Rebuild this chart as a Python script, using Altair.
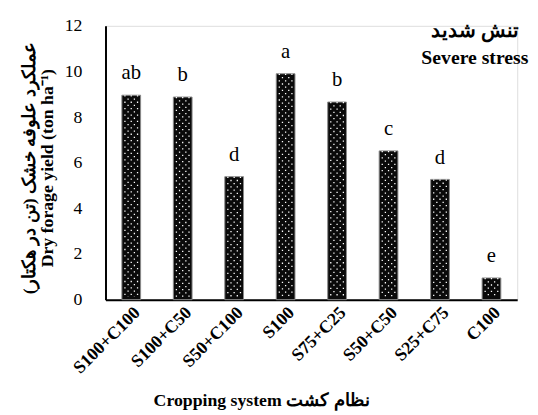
import altair as alt
import pandas as pd

systems = ["S100+C100", "S100+C50", "S50+C100", "S100", "S75+C25", "S50+C50", "S25+C75", "C100"]
yields = [8.96, 8.88, 5.39, 9.90, 8.66, 6.52, 5.27, 0.95]
letters = ["ab", "b", "d", "a", "b", "c", "d", "e"]
y_ticks = [0, 2, 4, 6, 8, 10, 12]

df = pd.DataFrame({"system": systems, "yield": yields, "letter": letters})

FONT = "Liberation Serif"

x_enc = alt.X(
    "system:N",
    sort=systems,
    scale=alt.Scale(paddingInner=0.636, paddingOuter=0.318),
    axis=alt.Axis(
        title="Cropping system نظام کشت",
        titleFont=FONT, titleFontSize=18, titleFontWeight="bold", titleColor="black",
        titleX=158, titleY=107, titleAlign="center", titleBaseline="alphabetic",
        labelAngle=-45, labelFont=FONT, labelFontSize=18, labelFontWeight="bold",
        labelColor="black", ticks=False, labelPadding=4,
        domainColor="black", domainWidth=2,
    ),
)
y_enc = alt.Y(
    "yield:Q",
    scale=alt.Scale(domain=[0, 12]),
    axis=alt.Axis(
        values=y_ticks, grid=False, ticks=False, labelPadding=24,
        labelFont=FONT, labelFontSize=18, labelColor="black",
        title=["عملکرد علوفه خشک (تن در هکتار)", "Dry forage yield (ton ha⁻¹)"],
        titleFont=FONT, titleFontSize=18, titleFontWeight="bold", titleColor="black",
        titleX=-68, titleY=144, titleAlign="center", titleLineHeight=18,
        domainColor="black", domainWidth=2,
    ),
)

base = alt.Chart(df)

bars = base.mark_bar(fill="#0a0a0a", stroke="#8a8a8a", strokeWidth=1).encode(x=x_enc, y=y_enc)

dot_layers = []
offsets = [-6.4, -3.2, 0, 3.2, 6.4]
for i, off in enumerate(offsets):
    dot_layers.append(
        base.mark_rule(
            color="white", strokeWidth=1.3, strokeDash=[1.3, 5.2],
            strokeDashOffset=(0 if i % 2 == 0 else 3.25), xOffset=off,
        ).encode(
            x=alt.X("system:N", sort=systems),
            y=alt.Y("yield:Q"),
            y2=alt.datum(0.12),
        )
    )

labels = base.mark_text(
    font=FONT, fontSize=21, color="black", baseline="bottom", dy=-12
).encode(x=alt.X("system:N", sort=systems), y=alt.Y("yield:Q"), text="letter:N")

chart = alt.layer(bars, *dot_layers, labels).properties(
    width=418,
    height=278,
    autosize=alt.AutoSizeParams(type="none"),
    padding={"left": 99, "top": 15, "right": 13, "bottom": 114},
    title=alt.TitleParams(
        text="تنش شدید",
        subtitle="Severe stress",
        anchor="end", align="center", orient="top", frame="group",
        font=FONT, fontSize=20, fontWeight="bold", color="black",
        subtitleFont=FONT, subtitleFontSize=20, subtitleFontWeight="bold",
        subtitleColor="black", subtitlePadding=8,
        offset=-52, dx=-43,
    ),
).configure_view(stroke=None).configure(background="white")

chart.save("out.html", embed_options={"renderer": "svg", "actions": False})
